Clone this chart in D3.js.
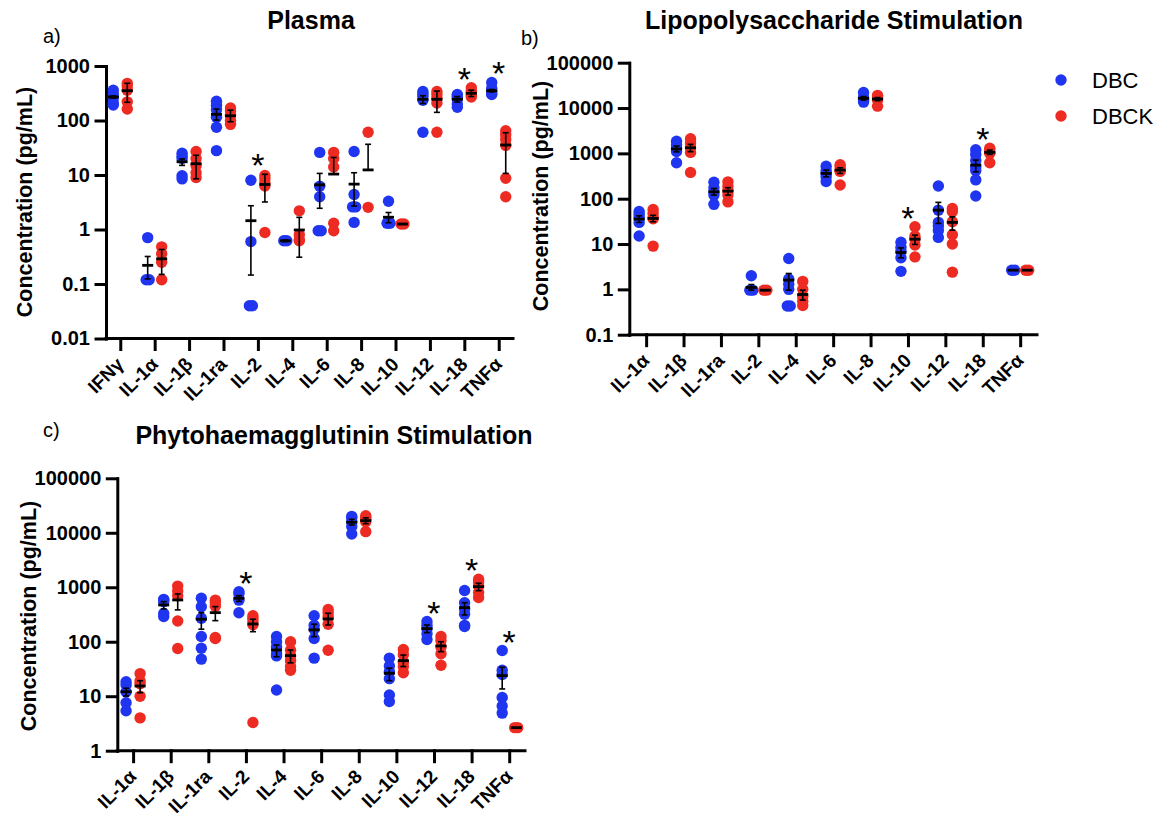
<!DOCTYPE html>
<html>
<head>
<meta charset="utf-8">
<script src="https://cdn.jsdelivr.net/npm/d3@7"></script>
<style>
  body { margin: 0; background: #fff; }
  svg { font-family: "Liberation Sans", Arial, sans-serif; }
</style>
</head>
<body>
<div id="wrapper"></div>
<script>
// ---- data (pg/mL) ----
const plasmaCats = ["IFNγ", "IL-1α", "IL-1β", "IL-1ra", "IL-2", "IL-4", "IL-6", "IL-8", "IL-10", "IL-12", "IL-18", "TNFα"];
const plasmaDBC = [
    [360, 305, 260, 210, 192],
    [0.71, 0.12, 0.12],
    [25, 22, 20, 9.7, 8.5],
    [225, 190, 160, 115, 75, 28],
    [8, 0.6, 0.04, 0.04],
    [0.62, 0.62],
    [26, 6.2, 4, 0.95, 0.95],
    [27, 4.4, 2.6, 2.6, 1.35],
    [3.3, 1.3, 1.3],
    [340, 310, 280, 235, 61],
    [300, 280, 250, 200, 175],
    [500, 390, 340, 310, 300]
];
const plasmaDBCK = [
    [480, 430, 360, 220, 162],
    [0.48, 0.36, 0.25, 0.12],
    [27, 20, 15, 11, 9],
    [170, 150, 125, 100, 85],
    [9.8, 8.5, 7.2, 6.3, 0.88],
    [2.2, 0.8, 0.65, 0.62],
    [26, 20, 14, 1.3, 0.95],
    [61, 2.55],
    [1.26, 1.26],
    [340, 300, 255, 210, 61],
    [400, 350, 320, 290, 270],
    [65, 55, 45, 35, 8.7, 4.0]
];
// [mean, lower, upper] (mean ± SEM)
const plasmaStatsDBC = [[270, 258, 282], [0.22, 0.124, 0.32], [17.5, 15, 19.7], [130, 102, 162], [1.45, 0.146, 2.73], [0.62, 0.6, 0.64],
    [6.6, 2.45, 10.7], [6.8, 2.7, 11], [1.68, 1.33, 2.05], [245, 205, 285], [245, 218, 275], [352, 335, 370]];
const plasmaStatsDBCK = [[352, 216, 482], [0.29, 0.15, 0.43], [16.1, 8.5, 23], [122, 95, 155], [6.7, 3.2, 10.3], [0.98, 0.31, 1.67],
    [10.4, 10.4, 21], [12.4, null, 36.6], [1.26, 1.24, 1.28], [245, 141, 347], [316, 275, 360], [35.5, 10.7, 59.7]];
const plasmaSig = ["IL-2", "IL-18", "TNFα"];
const plasmaTicks = [0.01, 0.1, 1, 10, 100, 1000];

const lpsCats = ["IL-1α", "IL-1β", "IL-1ra", "IL-2", "IL-4", "IL-6", "IL-8", "IL-10", "IL-12", "IL-18", "TNFα"];
const lpsDBC = [
    [52, 45, 38, 30, 15],
    [1850, 1550, 1300, 1100, 620],
    [230, 175, 140, 120, 75],
    [2.0, 0.96, 0.96],
    [4.8, 1.7, 1.3, 1.0, 0.43, 0.43],
    [520, 420, 360, 300, 240],
    [22000, 17000, 15500, 14500, 13500],
    [11, 8.5, 7, 5, 2.5],
    [190, 56, 30, 25, 20, 14],
    [1200, 950, 700, 500, 420, 260, 115],
    [2.65, 2.65]
];
const lpsDBCK = [
    [58, 47, 38, 36, 9],
    [2100, 1700, 1350, 1050, 380],
    [235, 185, 150, 120, 85],
    [0.96, 0.96],
    [1.5, 1.0, 0.7, 0.55, 0.44],
    [560, 500, 420, 400, 200],
    [19000, 17500, 16000, 15000, 11000],
    [24, 15, 13, 9.5, 5.2],
    [61, 52, 31, 16, 10, 2.4],
    [1300, 1200, 1050, 1000, 620],
    [2.65, 2.65]
];
const lpsStatsDBC = [[35.5, 30, 42], [1250, 1080, 1450], [142, 120, 168], [1.1, 0.96, 1.28], [1.6, 0.96, 2.24], [361, 304, 428],
    [16400, 15000, 17900], [6.5, 4.96, 8.2], [56, 28.5, 83], [552, 392, 711], [2.65, 2.65, 2.65]];
const lpsStatsDBCK = [[36.7, 31, 43], [1330, 1090, 1580], [147, 120, 175], [0.96, 0.95, 0.97], [0.77, 0.58, 0.96], [428, 361, 481],
    [15800, 14500, 17000], [12.8, 9.8, 15.7], [30, 20.3, 39.8], [1052, 950, 1180], [2.65, 2.65, 2.65]];
const lpsSig = ["IL-10", "IL-18"];
const lpsTicks = [0.1, 1, 10, 100, 1000, 10000, 100000];

const phaCats = ["IL-1α", "IL-1β", "IL-1ra", "IL-2", "IL-4", "IL-6", "IL-8", "IL-10", "IL-12", "IL-18", "TNFα"];
const phaDBC = [
    [18.5, 16, 12, 7.6, 5.4],
    [600, 580, 540, 330, 290],
    [630, 440, 270, 125, 76, 48],
    [830, 760, 580, 340],
    [125, 100, 80, 60, 55, 13],
    [300, 200, 170, 115, 50],
    [20000, 19000, 16000, 13000, 9500],
    [50, 36, 28, 21, 10.5, 8],
    [235, 200, 175, 140, 110],
    [870, 520, 400, 320, 200, 190],
    [69, 30, 25, 9.5, 6.6, 4.9]
];
const phaDBCK = [
    [26, 19, 17, 10, 4],
    [1050, 850, 700, 240, 75],
    [580, 520, 450, 120, 115],
    [300, 270, 240, 205, 3.3],
    [100, 70, 55, 45, 35, 30],
    [390, 340, 290, 210, 70],
    [20500, 19000, 17500, 16000, 10500],
    [72, 58, 42, 35, 27],
    [125, 105, 80, 60, 37],
    [1400, 1250, 1050, 800, 650],
    [2.65, 2.65]
];
const phaStatsDBC = [[12.1, 10.1, 14], [473, 400, 545], [259, 170, 342], [628, 550, 700], [70.6, 53, 87], [165, 124, 210],
    [15600, 13900, 17700], [26.4, 19.3, 32.7], [174, 147, 203], [423, 310, 521], [23.9, 13.6, 34]];
const phaStatsDBCK = [[15.4, 11.6, 19.3], [585, 384, 754], [342, 244, 441], [212, 153, 259], [55.6, 41, 70.6], [262, 203, 333],
    [16700, 14700, 18800], [45, 35, 57], [83.8, 65.8, 100], [1026, 866, 1183], [2.65, 2.65, 2.65]];
const phaSig = ["IL-2", "IL-12", "IL-18", "TNFα"];
const phaTicks = [1, 10, 100, 1000, 10000, 100000];

const groupNames = ["DBC", "DBCK"];
const colors = ["#1f35f0", "#ee2b22"];

// ---- drawing ----
const svg = d3.select("#wrapper").append("svg")
    .attr("width", 1157)
    .attr("height", 816);

function drawPanel(p) {
    const x = d3.scalePoint().domain(p.cats).range([p.x0, p.x1]).padding(p.pad);
    const y = d3.scaleLog().domain([p.ticks[0], p.ticks[p.ticks.length - 1]]).range([p.bottom, p.top]);
    const g = svg.append("g");
    const offs = [-7, 7];

    // axes
    const yAxis = g.append("g")
        .attr("transform", `translate(${p.x0},0)`)
        .call(d3.axisLeft(y).tickValues(p.ticks).tickFormat(d => String(d)).tickSize(10).tickSizeOuter(0).tickPadding(6));
    yAxis.selectAll("text").style("font-size", "20px").style("font-weight", "bold").attr("fill", "#000");

    const xAxis = g.append("g")
        .attr("transform", `translate(0,${p.bottom})`)
        .call(d3.axisBottom(x).tickSize(11).tickSizeOuter(0));
    xAxis.selectAll("text")
        .attr("x", 0).attr("y", 0).attr("dy", 0)
        .attr("transform", "translate(4,27) rotate(-45)")
        .style("text-anchor", "end")
        .style("font-size", "19px").style("font-weight", "bold").attr("fill", "#000");
    // draw x domain from the y axis
    xAxis.select(".domain").attr("d", `M${p.x0},0H${p.x1}`);

    g.selectAll(".domain, .tick line")
        .attr("stroke", "#000").attr("stroke-width", 3).attr("stroke-linecap", "square");

    // dots
    [p.dbc, p.dbck].forEach((series, gi) => {
        series.forEach((vals, ci) => {
            const cx = x(p.cats[ci]) + offs[gi];
            vals.forEach((v, vi) => {
                const same = vals.filter(w => w === v);
                const k = vals.slice(0, vi).filter(w => w === v).length;
                const dx = same.length > 1 ? (k - (same.length - 1) / 2) * 3 : 0;
                g.append("circle")
                    .attr("cx", cx + dx)
                    .attr("cy", y(v))
                    .attr("r", 5.7)
                    .attr("fill", colors[gi]);
            });
        });
    });

    // mean ± SEM
    [p.statsDbc, p.statsDbck].forEach((stats, gi) => {
        stats.forEach((s, ci) => {
            const cx = x(p.cats[ci]) + offs[gi];
            const [m, lo, hi] = s;
            const yl = lo === null ? y(m) : y(lo);
            if (hi !== m || (lo !== null && lo !== m)) {
                g.append("line").attr("x1", cx).attr("x2", cx).attr("y1", yl).attr("y2", y(hi))
                    .attr("stroke", "#000").attr("stroke-width", 1.6);
                g.append("line").attr("x1", cx - 3).attr("x2", cx + 3).attr("y1", y(hi)).attr("y2", y(hi))
                    .attr("stroke", "#000").attr("stroke-width", 1.6);
                if (lo !== null) {
                    g.append("line").attr("x1", cx - 3).attr("x2", cx + 3).attr("y1", y(lo)).attr("y2", y(lo))
                        .attr("stroke", "#000").attr("stroke-width", 1.6);
                }
            }
            g.append("line").attr("x1", cx - 5.5).attr("x2", cx + 5.5).attr("y1", y(m)).attr("y2", y(m))
                .attr("stroke", "#000").attr("stroke-width", 2.8);
        });
    });

    // significance
    p.sig.forEach(c => {
        const ci = p.cats.indexOf(c);
        const top = d3.max([...p.dbc[ci], ...p.dbck[ci], p.statsDbc[ci][2], p.statsDbck[ci][2]]);
        g.append("text")
            .attr("x", x(c))
            .attr("y", y(top) + 3)
            .attr("text-anchor", "middle")
            .style("font-size", "34px")
            .text("*");
    });

    // titles
    g.append("text").attr("x", p.titleX).attr("y", p.titleY)
        .attr("text-anchor", "middle")
        .style("font-size", "25px").style("font-weight", "bold")
        .text(p.title);
    g.append("text").attr("x", p.letterX).attr("y", p.letterY)
        .style("font-size", "20px")
        .text(p.letter);
    g.append("text")
        .attr("transform", `translate(${p.yTitleX},${p.yTitleY}) rotate(-90)`)
        .attr("text-anchor", "middle")
        .style("font-size", "21.5px").style("font-weight", "bold")
        .text("Concentration (pg/mL)");
}

drawPanel({
    cats: plasmaCats, dbc: plasmaDBC, dbck: plasmaDBCK, statsDbc: plasmaStatsDBC, statsDbck: plasmaStatsDBCK,
    sig: plasmaSig, ticks: plasmaTicks,
    x0: 106, x1: 513, top: 66, bottom: 338.5, pad: 0.415,
    title: "Plasma", titleX: 311, titleY: 29, letter: "a)", letterX: 43, letterY: 43,
    yTitleX: 32, yTitleY: 202
});
drawPanel({
    cats: lpsCats, dbc: lpsDBC, dbck: lpsDBCK, statsDbc: lpsStatsDBC, statsDbck: lpsStatsDBCK,
    sig: lpsSig, ticks: lpsTicks,
    x0: 629.3, x1: 1037, top: 62.7, bottom: 334.7, pad: 0.45,
    title: "Lipopolysaccharide Stimulation", titleX: 834, titleY: 29, letter: "b)", letterX: 521, letterY: 45,
    yTitleX: 547.5, yTitleY: 196
});
drawPanel({
    cats: phaCats, dbc: phaDBC, dbck: phaDBCK, statsDbc: phaStatsDBC, statsDbck: phaStatsDBCK,
    sig: phaSig, ticks: phaTicks,
    x0: 117.3, x1: 525, top: 478.3, bottom: 750.7, pad: 0.42,
    title: "Phytohaemagglutinin Stimulation", titleX: 334, titleY: 444, letter: "c)", letterX: 43, letterY: 437,
    yTitleX: 36, yTitleY: 616
});

// legend
const legend = svg.append("g");
groupNames.forEach((name, i) => {
    legend.append("circle").attr("cx", 1061).attr("cy", 80 + i * 36).attr("r", 5.7).attr("fill", colors[i]);
    legend.append("text").attr("x", 1092).attr("y", 88 + i * 35.5)
        .style("font-size", "22px").text(name);
});
</script>
</body>
</html>
